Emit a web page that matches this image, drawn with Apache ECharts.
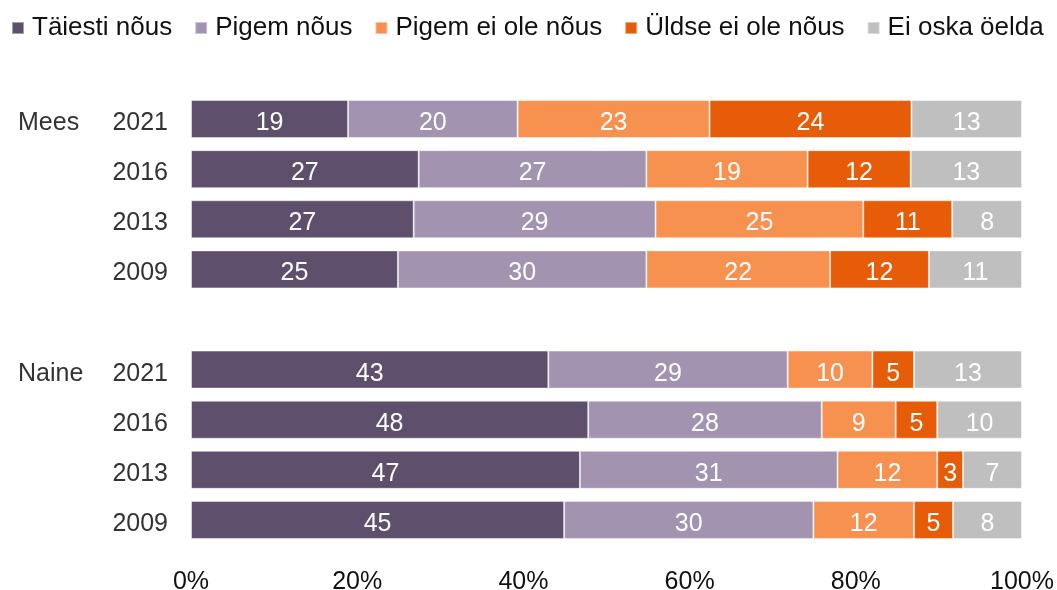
<!DOCTYPE html>
<html>
<head>
<meta charset="utf-8">
<script src="https://cdn.jsdelivr.net/npm/echarts@6/dist/echarts.min.js"></script>
<style>
  html, body { margin: 0; padding: 0; background: #fff; }
  #chart { width: 1057px; height: 590px; }
</style>
</head>
<body>
<div id="chart"></div>
<script>
// aastad ja rühmad (tühi rida on vahe meeste ja naiste vahel)
const years = ['2021', '2016', '2013', '2009', '', '2021', '2016', '2013', '2009']
const groups = ['Mees', '', '', '', '', 'Naine', '', '', '']

// vastuste jaotus, %
const answers = ['Täiesti nõus', 'Pigem nõus', 'Pigem ei ole nõus', 'Üldse ei ole nõus', 'Ei oska öelda']
const taiestiNous = [18.9, 27.4, 26.8, 24.9, null, 43.0, 47.8, 46.8, 44.9]
const pigemNous = [20.4, 27.4, 29.1, 29.9, null, 28.8, 28.1, 31.0, 30.0]
const pigemEiOle = [23.1, 19.4, 25.0, 22.1, null, 10.2, 8.9, 12.0, 12.1]
const uldseEiOle = [24.3, 12.4, 10.7, 11.9, null, 5.0, 5.0, 3.1, 4.7]
const eiOska = [13.3, 13.4, 8.4, 11.2, null, 13.0, 10.2, 7.1, 8.3]

const values = [taiestiNous, pigemNous, pigemEiOle, uldseEiOle, eiOska]
const colors = ['#5e506c', '#a294b1', '#f79150', '#e65c09', '#bfbfbf']

const font = 'Liberation Sans, Arial, sans-serif'

const chart = echarts.init(document.getElementById('chart'))

const series = answers.map((name, i) => ({
    name,
    type: 'bar',
    stack: 'total',
    barWidth: 38,
    data: values[i],
    itemStyle: { color: colors[i], borderColor: 'rgba(255,255,255,0.45)', borderWidth: 1 },
    label: {
        show: true,
        position: 'inside',
        offset: [0, 4],
        color: '#fff',
        fontFamily: font,
        fontSize: 25,
        formatter: p => Math.round(p.value)
    },
    emphasis: { disabled: true }
}))

// telje silt veidi allapoole, nagu originaalis
const rowLabel = { fontFamily: font, fontSize: 25, color: '#333', padding: [8, 0, 0, 0] }

chart.setOption({
    animation: false,
    color: colors,
    legend: {
        top: 15,
        left: 11,
        width: 1046,
        padding: 0,
        icon: 'rect',
        itemWidth: 12,
        itemHeight: 12,
        itemGap: 22,
        data: answers,
        textStyle: { fontFamily: font, fontSize: 26, color: '#111', padding: [0, 0, 0, 3] }
    },
    grid: { left: 191, right: 35, top: 94, bottom: 45, containLabel: false, outerBoundsMode: 'none' },
    xAxis: {
        type: 'value',
        min: 0,
        max: 100,
        interval: 20,
        axisLine: { show: false },
        axisTick: { show: false },
        splitLine: { show: false },
        axisLabel: { formatter: '{value}%', fontFamily: font, fontSize: 25, color: '#111', margin: 25 }
    },
    yAxis: [{
        type: 'category',
        data: years,
        inverse: true,
        axisLine: { show: false },
        axisTick: { show: false },
        axisLabel: { margin: 23, formatter: v => v ? '{a|' + v + '}' : '', rich: { a: rowLabel } }
    }, {
        type: 'category',
        data: groups,
        inverse: true,
        position: 'left',
        axisLine: { show: false },
        axisTick: { show: false },
        axisLabel: { align: 'left', margin: 173, formatter: v => v ? '{a|' + v + '}' : '', rich: { a: rowLabel } }
    }],
    series
})
</script>
</body>
</html>
